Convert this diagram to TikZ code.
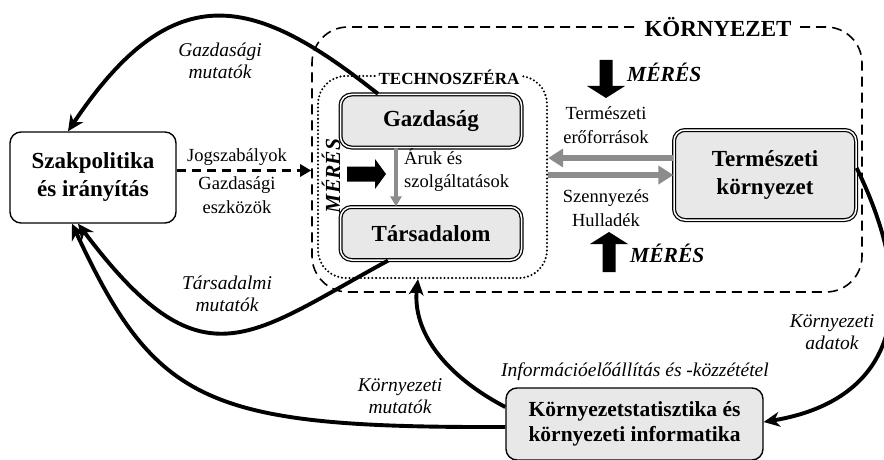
\documentclass[tikz,border=0pt]{standalone}
\usepackage{fontspec}
\setmainfont{Liberation Serif}
\usetikzlibrary{arrows.meta}

\begin{document}
\begin{tikzpicture}[x=1pt, y=-1pt,
    box/.style={draw, rounded corners=11pt, line width=1.4pt, align=center, inner sep=0pt,
        font=\fontsize{23}{28}\selectfont\bfseries},
    dbox/.style={box, fill=gray!18, double, double distance=1.5pt, line width=1.25pt},
    lab/.style={align=center, inner sep=1pt, font=\fontsize{18.5}{23.5}\selectfont},
    ilab/.style={align=center, inner sep=1pt, font=\fontsize{19.5}{22.5}\selectfont\itshape},
    meres/.style={inner sep=0pt, font=\fontsize{21.5}{24}\selectfont\bfseries\itshape},
    flow/.style={line width=3.9pt, -{Stealth[length=16pt,width=15pt]}},
    grayflow/.style={draw=gray!90, line width=5.5pt, -{Triangle[length=15pt,width=18pt]}}]

    \useasboundingbox (0,0) rectangle (884,460);

    % frames
    \node[draw, line width=1.6pt, dash pattern=on 10pt off 6pt, rounded corners=36pt,
          minimum width=550pt, minimum height=265pt] (korny) at (587,159.5) {};
    \node[draw, line width=2.3pt, line cap=round, dash pattern=on 0pt off 3.8pt, rounded corners=28pt,
          minimum width=229pt, minimum height=202pt] (techno) at (432.5,177) {};
    \node[fill=white, inner xsep=5pt, inner ysep=1pt, font=\fontsize{23}{26}\selectfont\bfseries]
          (kornylab) at (718,27) {KÖRNYEZET};
    \node[fill=white, inner xsep=3pt, inner ysep=1pt, font=\fontsize{17}{20}\selectfont\bfseries]
          (technolab) at (449,77) {TECHNOSZFÉRA};

    % boxes
    \node[box, minimum width=166pt, minimum height=91pt] (szak) at (93,177.5) {Szakpolitika\\és irányítás};
    \node[dbox, minimum width=181pt, minimum height=53pt] (gazd) at (431,121) {Gazdaság};
    \node[dbox, minimum width=181pt, minimum height=53pt] (tars) at (431,233.5) {Társadalom};
    \node[dbox, minimum width=182pt, minimum height=90pt] (term) at (765,175) {Természeti\\környezet};
    \node[box, fill=gray!18, minimum width=257pt, minimum height=72pt,
          font=\fontsize{21.5}{24.5}\selectfont\bfseries] (stat) at (634.5,424) {Környezetstatisztika és\\környezeti informatika};

    % measurement arrows
    \coordinate (mtop) at (606,98);
    \coordinate (mbot) at (609,232);
    \coordinate (mleft) at (386,174);
    \fill (mtop) -- ++(-19,-12) -- ++(12.5,0) -- ++(0,-26) -- ++(13,0) -- ++(0,26) -- ++(12.5,0) -- cycle;
    \fill (mbot) -- ++(-19,12) -- ++(12.5,0) -- ++(0,28) -- ++(13,0) -- ++(0,-28) -- ++(12.5,0) -- cycle;
    \fill (mleft) -- ++(-11,-15) -- ++(0,7.5) -- ++(-28,0) -- ++(0,15) -- ++(28,0) -- ++(0,7.5) -- cycle;
    \node[meres, anchor=west] (mtoplab) at (627,72) {MÉRÉS};
    \node[meres, anchor=west] (mbotlab) at (630,253) {MÉRÉS};
    \node[meres, rotate=90] (mleftlab) at (331,176) {MÉRÉS};

    % flows inside
    \draw[draw=gray!90, line width=3.2pt, -{Triangle[length=10pt,width=11pt]}]
        ([xshift=-35pt]gazd.south) -- ([xshift=-35pt]tars.north);
    \node[lab, align=left, anchor=west] (aruk) at (403,170) {Áruk és\\szolgáltatások};
    \draw[grayflow] ([yshift=17pt]term.west) -- ([yshift=17pt]techno.east |- term.west);
    \draw[grayflow] (techno.east |- term.west) -- (term.west);
    \node[lab] (eroforr) at (606,125) {Természeti\\erőforrások};
    \node[lab] (szenny) at (606,208) {Szennyezés\\Hulladék};

    % regulation
    \draw[line width=2.8pt, dash pattern=on 9pt off 6pt, -{Triangle[length=11pt,width=12pt]}]
        ([yshift=7pt]szak.east) -- ([yshift=7pt]korny.west |- szak.east);
    \node[lab] (jog) at (237,157) {Jogszabályok};
    \node[lab] (geszk) at (237,195) {Gazdasági\\eszközök};

    % indicators
    \draw[flow] ([xshift=-53pt]gazd.north) .. controls +(-121,-96) and +(107,-160) .. ([xshift=-25pt]szak.north);
    \draw[flow] ([xshift=-43pt]tars.south) .. controls +(-140,76) and +(124,165) .. ([xshift=-15pt]szak.south);
    \draw[flow] ([yshift=-3pt]stat.west) .. controls +(-300,1) and +(84,180) .. ([xshift=-21pt]szak.south);
    \draw[flow] ([yshift=17pt]stat.west) .. controls +(-61,-32) and +(-6,52) .. ([xshift=-14.5pt]techno.south);
    \draw[flow] ([yshift=7pt]term.east) .. controls +(66,135) and +(132,-22) .. ([yshift=2pt]stat.east);
    \node[ilab] (gmut) at (220,61) {Gazdasági\\mutatók};
    \node[ilab] (tmut) at (227,294) {Társadalmi\\mutatók};
    \node[ilab] (kmut) at (400,396) {Környezeti\\mutatók};
    \node[ilab] (kadat) at (832,332) {Környezeti\\adatok};
    \node[ilab] (info) at (635,372) {Információelőállítás és -közzététel};

\end{tikzpicture}
\end{document}
